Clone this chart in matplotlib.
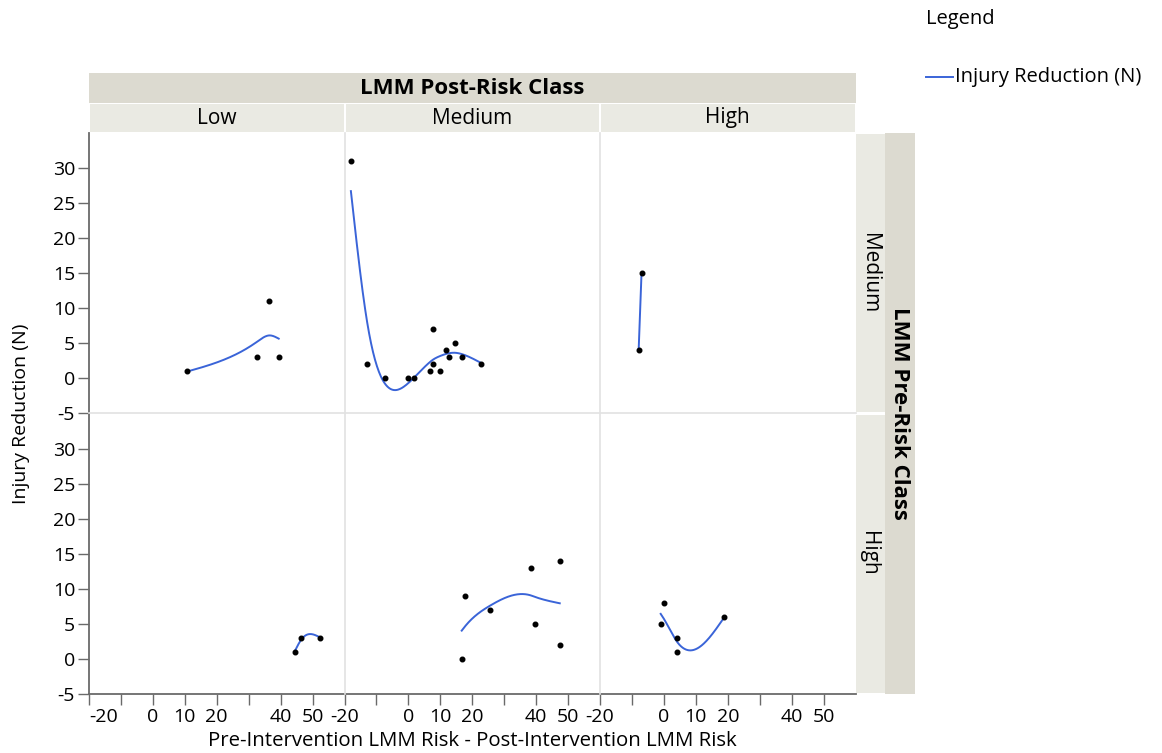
import numpy as np
import matplotlib
matplotlib.use("Agg")
import matplotlib.pyplot as plt
from matplotlib.patches import Rectangle
from matplotlib.lines import Line2D

plt.rcParams['font.family'] = ['Open Sans', 'DejaVu Sans']
plt.rcParams['axes.unicode_minus'] = False

# ---------------- data ----------------
post_classes = ["Low", "Medium", "High"]      # columns
pre_classes = ["Medium", "High"]              # rows

# row Medium (pre), columns Low / Medium / High (post)
med_low_x = [10.6, 32.6, 36.5, 39.4]
med_low_y = [1, 3, 11, 3]
med_med_x = [-18.0, -13.0, -7.2, -0.2, 1.9, 6.8, 7.8, 7.8, 9.8, 11.8, 12.7, 14.6, 16.7, 22.6]
med_med_y = [31, 2, 0, 0, 0, 1, 2, 7, 1, 4, 3, 5, 3, 2]
med_high_x = [-7.9, -7.0]
med_high_y = [4, 15]
# row High (pre)
high_low_x = [44.5, 46.5, 52.4]
high_low_y = [1, 3, 3]
high_med_x = [16.7, 17.6, 25.6, 38.4, 39.5, 47.4, 47.4]
high_med_y = [0, 9, 7, 13, 5, 14, 2]
high_high_x = [-1.0, 0.0, 4.0, 4.1, 18.8]
high_high_y = [5, 8, 1, 3, 6]

panel_data = [
    [(med_low_x, med_low_y), (med_med_x, med_med_y), (med_high_x, med_high_y)],
    [(high_low_x, high_low_y), (high_med_x, high_med_y), (high_high_x, high_high_y)],
]

x_ticks = [-20, -10, 0, 10, 20, 30, 40, 50]
x_tick_labels = ["-20", "", "0", "10", "20", "", "40", "50"]
y_ticks = [-5, 0, 5, 10, 15, 20, 25, 30]
x_lim = (-20, 60)
y_lim = (-5, 35)
SMOOTH_LAMBDA = 0.03


def smoothing_spline(x, y, lam, npts=200):
    """Cubic smoothing spline (Reinsch) on standardized x."""
    x = np.asarray(x, float)
    y = np.asarray(y, float)
    ux, inv = np.unique(x, return_inverse=True)
    w = np.bincount(inv).astype(float)
    ym = np.bincount(inv, weights=y) / w
    n = len(ux)
    xs = np.linspace(ux[0], ux[-1], npts)
    if n < 3:
        return xs, np.interp(xs, ux, ym)
    s = np.std(x)
    t = (ux - ux.mean()) / s
    h = np.diff(t)
    Q = np.zeros((n, n - 2))
    R = np.zeros((n - 2, n - 2))
    for j in range(n - 2):
        Q[j, j] = 1 / h[j]
        Q[j + 1, j] = -1 / h[j] - 1 / h[j + 1]
        Q[j + 2, j] = 1 / h[j + 1]
        R[j, j] = (h[j] + h[j + 1]) / 3
        if j < n - 3:
            R[j, j + 1] = R[j + 1, j] = h[j + 1] / 6
    K = Q @ np.linalg.solve(R, Q.T)
    g = np.linalg.solve(np.diag(w) + lam * K, w * ym)
    gam = np.concatenate([[0.0], np.linalg.solve(R, Q.T @ g), [0.0]])
    tt = (xs - ux.mean()) / s
    idx = np.clip(np.searchsorted(t, tt) - 1, 0, n - 2)
    a = tt - t[idx]
    b = t[idx + 1] - tt
    hi = h[idx]
    f = (a * g[idx + 1] + b * g[idx]) / hi - a * b / 6 * (
        (1 + a / hi) * gam[idx + 1] + (1 + b / hi) * gam[idx])
    return xs, f


W, H = 1162, 753
fig = plt.figure(figsize=(W / 100, H / 100), dpi=100)
fig.patch.set_facecolor("white")


def fx(px):
    return px / W


def fy(py):
    return 1 - py / H


col_edges = [89, 344.5, 600, 855.5]
row_edges = [133, 413.5, 694]
axis_col = "#6a6a6a"
grid_col = "#e2e2e2"
strip_dark = "#dcdad0"
strip_light = "#eaeae3"
line_col = "#3a64d8"
fs = 15
tick_fs = 14

for r in range(2):
    for c in range(3):
        x0, x1 = col_edges[c], col_edges[c + 1]
        y0, y1 = row_edges[r], row_edges[r + 1]
        ax = fig.add_axes([fx(x0), fy(y1), fx(x1) - fx(x0), fy(y0) - fy(y1)])
        ax.set_xlim(*x_lim)
        ax.set_ylim(*y_lim)
        for sp in ax.spines.values():
            sp.set_visible(False)
        xd, yd = panel_data[r][c]
        xs, ys = smoothing_spline(xd, yd, SMOOTH_LAMBDA)
        ax.plot(xs, ys, color=line_col, lw=1.4, zorder=2)
        ax.plot(xd, yd, 'o', color="black", ms=3.3, zorder=3)
        if c == 0:
            ax.spines['left'].set_visible(True)
            ax.spines['left'].set_color(axis_col)
            ax.spines['left'].set_linewidth(1.3)
            ax.set_yticks(y_ticks)
            ax.set_yticklabels([str(v) for v in y_ticks])
            ax.tick_params(axis='y', direction='out', length=8, width=1,
                           color=axis_col, labelsize=tick_fs, pad=2)
        else:
            ax.set_yticks([])
        if r == 1:
            ax.spines['bottom'].set_visible(True)
            ax.spines['bottom'].set_color(axis_col)
            ax.spines['bottom'].set_linewidth(1.3)
            ax.set_xticks(x_ticks)
            ax.set_xticklabels(x_tick_labels)
            ax.tick_params(axis='x', direction='out', length=8, width=1,
                           color=axis_col, labelsize=tick_fs, pad=2)
            if c == 0:
                ax.get_xticklabels()[0].set_horizontalalignment('left')
        else:
            ax.set_xticks([])

# panel separators
for xe in col_edges[1:3]:
    fig.add_artist(Line2D([fx(xe), fx(xe)], [fy(133), fy(694)], color=grid_col, lw=1.2))
fig.add_artist(Line2D([fx(89), fx(855.5)], [fy(413.5), fy(413.5)], color=grid_col, lw=1.2))

# top strips
fig.add_artist(Rectangle((fx(89), fy(103)), fx(855.5) - fx(89), fy(73) - fy(103),
                         transform=fig.transFigure, facecolor=strip_dark, edgecolor="none"))
fig.text(fx(472), fy(88), "LMM Post-Risk Class", ha="center", va="center",
         fontsize=16, fontweight="bold")
for c in range(3):
    x0, x1 = col_edges[c], col_edges[c + 1]
    fig.add_artist(Rectangle((fx(x0 + 1), fy(132)), fx(x1 - 1) - fx(x0 + 1), fy(104) - fy(132),
                             transform=fig.transFigure, facecolor=strip_light, edgecolor="none"))
    fig.text(fx((x0 + x1) / 2), fy(118), post_classes[c], ha="center", va="center", fontsize=fs)

# right strips
for r in range(2):
    y0, y1 = row_edges[r], row_edges[r + 1]
    fig.add_artist(Rectangle((fx(856), fy(y1 - 1)), fx(885) - fx(856), fy(y0 + 1) - fy(y1 - 1),
                             transform=fig.transFigure, facecolor=strip_light, edgecolor="none"))
    fig.text(fx(869), fy((y0 + y1) / 2), pre_classes[r], ha="center", va="center",
             fontsize=fs, rotation=-90)
fig.add_artist(Rectangle((fx(885), fy(694)), fx(915) - fx(885), fy(133) - fy(694),
                         transform=fig.transFigure, facecolor=strip_dark, edgecolor="none"))
fig.text(fx(900), fy(413.5), "LMM Pre-Risk Class", ha="center", va="center",
         fontsize=16, fontweight="bold", rotation=-90)

# axis titles
fig.text(fx(21), fy(413.5), "Injury Reduction (N)", ha="center", va="center",
         fontsize=14, rotation=90)
fig.text(fx(472), fy(741), "Pre-Intervention LMM Risk - Post-Intervention LMM Risk",
         ha="center", va="center", fontsize=14.7)

# legend
fig.text(fx(926), fy(19), "Legend", ha="left", va="center", fontsize=14.5)
fig.add_artist(Line2D([fx(926), fx(953)], [fy(77), fy(77)], color=line_col, lw=1.4))
fig.text(fx(955), fy(77), "Injury Reduction (N)", ha="left", va="center", fontsize=14.5)

fig.savefig("out.png", dpi=100)
